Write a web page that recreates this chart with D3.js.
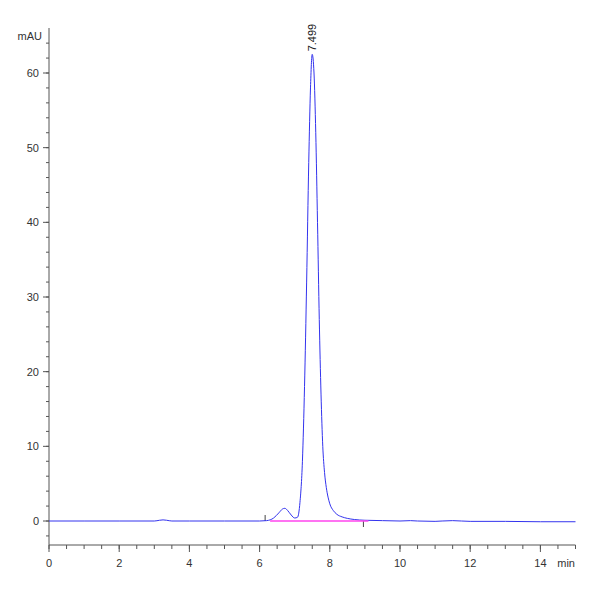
<!DOCTYPE html>
<html><head><meta charset="utf-8">
<script src="https://cdn.jsdelivr.net/npm/d3@7"></script>
<style>body{margin:0;background:#fff}text{font-family:"Liberation Sans",Arial,sans-serif}</style>
</head><body><svg id="c" width="600" height="600"></svg>
<script>
var times = [0,1,2,3.0,3.15,3.25,3.35,3.5,4,5,6,6.2,6.4,6.55,6.65,6.72,6.8,6.9,7.0,7.08,7.15,7.22,7.28,7.34,7.4,7.45,7.499,7.55,7.6,7.65,7.7,7.75,7.8,7.85,7.9,7.95,8.0,8.1,8.2,8.35,8.5,8.7,9.0,9.5,10,10.3,10.5,11,11.2,11.5,12,13,14,15];
var values = [0,0,0,0,0.1,0.15,0.1,0,0,0,0,0.05,0.4,1.1,1.6,1.7,1.4,0.8,0.4,0.5,2.5,8,18,32,48,58,62.5,60,52,40,27,17,10,6.5,4.5,3.2,2.3,1.4,0.9,0.55,0.35,0.2,0.1,0.05,0.0,0.05,0,-0.05,0,0.05,-0.05,-0.05,-0.1,-0.1];
var baseline = [6.3, 9.1];
var peakLabel = "7.499", peakTime = 7.499;
var yMajor = [0,10,20,30,40,50,60];
var xMajor = [0,2,4,6,8,10,12,14];

var svg = d3.select("#c");
var x = d3.scaleLinear().domain([0,15]).range([49,575.5]);
var y = d3.scaleLinear().domain([0,60]).range([521,73]);
var yTop = 28, xAxisY = 545;

// y axis
var gy = svg.append("g").attr("transform","translate(49,0)");
gy.append("line").attr("y1",yTop).attr("y2",xAxisY).attr("stroke","#555");
gy.selectAll(".mt").data(d3.range(-2,66,2)).enter().append("line")
  .attr("x1",-3).attr("x2",0).attr("y1",d=>y(d)).attr("y2",d=>y(d)).attr("stroke","#555");
gy.selectAll(".Mt").data(yMajor).enter().append("line")
  .attr("x1",-6).attr("x2",0).attr("y1",d=>y(d)).attr("y2",d=>y(d)).attr("stroke","#555");
gy.selectAll(".lb").data(yMajor).enter().append("text")
  .attr("x",-10).attr("y",d=>y(d)+4).attr("text-anchor","end").attr("font-size",11).attr("fill","#333").text(d=>d);
gy.append("text").attr("x",-7).attr("y",yTop+12).attr("text-anchor","end").attr("font-size",11).attr("fill","#333").text("mAU");

// x axis
var gx = svg.append("g").attr("transform","translate(0,"+xAxisY+")");
gx.append("line").attr("x1",49).attr("x2",575.5).attr("stroke","#555");
gx.selectAll(".mt").data(d3.range(0,15.01,0.5)).enter().append("line")
  .attr("x1",d=>x(d)).attr("x2",d=>x(d)).attr("y1",0).attr("y2",4).attr("stroke","#555");
gx.selectAll(".Mt").data(xMajor).enter().append("line")
  .attr("x1",d=>x(d)).attr("x2",d=>x(d)).attr("y1",0).attr("y2",7).attr("stroke","#555");
gx.selectAll(".lb").data(xMajor).enter().append("text")
  .attr("x",d=>x(d)).attr("y",22).attr("text-anchor","middle").attr("font-size",11).attr("fill","#333").text(d=>d);
gx.append("text").attr("x",575).attr("y",22).attr("text-anchor","end").attr("font-size",11).attr("fill","#333").text("min");

// baseline markers: start above, end below
svg.selectAll(".bm").data(baseline).enter().append("line")
  .attr("x1",d=>x(d)-5).attr("x2",d=>x(d)-5)
  .attr("y1",(d,i)=>i===0?y(0)-6:y(0)).attr("y2",(d,i)=>i===0?y(0):y(0)+6).attr("stroke","#444");

// signal
var pts = times.map((t,i)=>[t,values[i]]);
svg.append("path").datum(pts).attr("fill","none").attr("stroke","#3333ee").attr("stroke-width",1)
  .attr("d",d3.line().x(d=>x(d[0])).y(d=>y(d[1])).curve(d3.curveMonotoneX));

// integration baseline
svg.append("line").attr("x1",x(baseline[0])).attr("x2",x(baseline[1])).attr("y1",y(0)).attr("y2",y(0))
  .attr("stroke","#ff44ee").attr("stroke-width",1.5);

// peak label
svg.append("text").attr("transform","translate("+(x(peakTime)+4)+","+(y(62.5)-3)+") rotate(-90)")
  .attr("font-size",11).attr("fill","#222").text(peakLabel);
</script></body></html>
